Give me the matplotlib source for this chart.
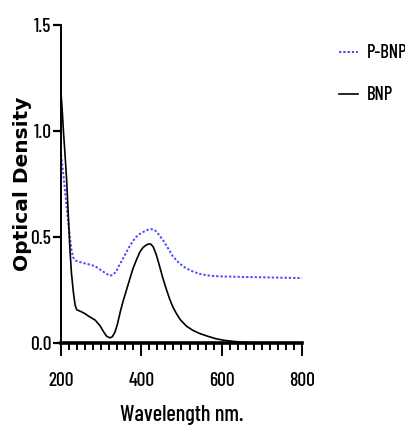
import matplotlib
matplotlib.use("Agg")
import matplotlib.pyplot as plt
from matplotlib.ticker import MultipleLocator

COND = ["Barlow Condensed", "Archivo Narrow", "DejaVu Sans"]

# BNP (black solid)
bnp_x = [200, 203, 206, 210, 214, 218, 222, 226, 231, 235, 239, 250, 260, 270, 285, 297, 305, 313, 322, 328,
         334, 340, 348, 355, 363, 371, 379, 388, 396, 404, 412, 418, 424, 430, 437, 445, 453, 462, 470, 478,
         487, 497, 512, 528, 545, 565, 586, 605, 627, 650, 670, 693]
bnp_y = [1.18, 1.1, 1.0, 0.89, 0.77, 0.61, 0.45, 0.33, 0.236, 0.18, 0.157, 0.148, 0.138, 0.125, 0.108, 0.082, 0.056, 0.033, 0.024, 0.03,
         0.05, 0.085, 0.15, 0.2, 0.25, 0.3, 0.35, 0.393, 0.428, 0.45, 0.462, 0.467, 0.466, 0.452, 0.418, 0.365, 0.31, 0.255, 0.21, 0.172,
         0.14, 0.11, 0.08, 0.06, 0.045, 0.032, 0.02, 0.013, 0.008, 0.004, 0.002, 0.0]

# P-BNP (blue dotted)
pbnp_x = [200, 205, 210, 214, 218, 222, 226, 230, 235, 245, 260, 272, 285, 297, 310, 322, 330, 338, 346, 355,
          363, 372, 380, 388, 395, 405, 415, 425, 433, 440, 447, 455, 465, 478, 490, 500, 512, 530, 545, 561,
          580, 600, 627, 660, 700, 750, 800]
pbnp_y = [0.887, 0.81, 0.72, 0.64, 0.566, 0.5, 0.44, 0.405, 0.39, 0.383, 0.375, 0.37, 0.362, 0.347, 0.33, 0.317, 0.322, 0.34, 0.37, 0.4,
          0.43, 0.46, 0.483, 0.502, 0.513, 0.524, 0.533, 0.537, 0.533, 0.52, 0.503, 0.482, 0.452, 0.41, 0.385, 0.368, 0.352, 0.336, 0.326, 0.32,
          0.316, 0.314, 0.313, 0.311, 0.31, 0.308, 0.306]

x_ticks = [200, 400, 600, 800]
y_ticks = [0.0, 0.5, 1.0, 1.5]

fig = plt.figure(figsize=(4.06, 4.26), dpi=100)
ax = fig.add_axes([61/406, 1 - 343/426, (302-61)/406, (343-25)/426])

ax.plot(pbnp_x, pbnp_y, color="#4a4aff", linestyle=(0, (1.2, 1.0)), linewidth=1.4, label="P-BNP")
ax.plot(bnp_x, bnp_y, color="black", linewidth=1.2, label="BNP")

ax.set_xlim(200, 800)
ax.set_ylim(0, 1.5)
ax.set_xticks(x_ticks)
ax.set_yticks(y_ticks)
ax.set_yticklabels([f"{v:.1f}" for v in y_ticks])
ax.xaxis.set_minor_locator(MultipleLocator(20))

for s in ["top", "right"]:
    ax.spines[s].set_visible(False)
ax.spines["bottom"].set_linewidth(2.6)
ax.spines["left"].set_linewidth(1.4)

ax.tick_params(axis="x", which="major", direction="out", length=9, width=1.4, pad=12)
ax.tick_params(axis="x", which="minor", direction="out", length=5, width=1.4)
ax.tick_params(axis="y", which="major", direction="out", length=6, width=1.6, pad=1)

for lab in ax.get_xticklabels() + ax.get_yticklabels():
    lab.set_fontfamily(COND)
    lab.set_fontsize(14)
    lab.set_fontweight(500)

ax.set_xlabel("Wavelength nm.", fontfamily=COND, fontsize=16, fontweight=500, labelpad=11)
ax.set_ylabel("Optical Density", fontfamily="DejaVu Sans", fontweight="bold", fontsize=14.5)
ax.yaxis.set_label_coords(-0.12, 0.5)

leg = ax.legend(loc="upper left", bbox_to_anchor=(1.155, 0.94), frameon=False,
                borderaxespad=0, borderpad=0,
                prop={"family": COND, "size": 13.5, "weight": 500}, handlelength=1.0, handletextpad=0.45,
                labelspacing=1.3)

fig.savefig("out.png", dpi=100)
